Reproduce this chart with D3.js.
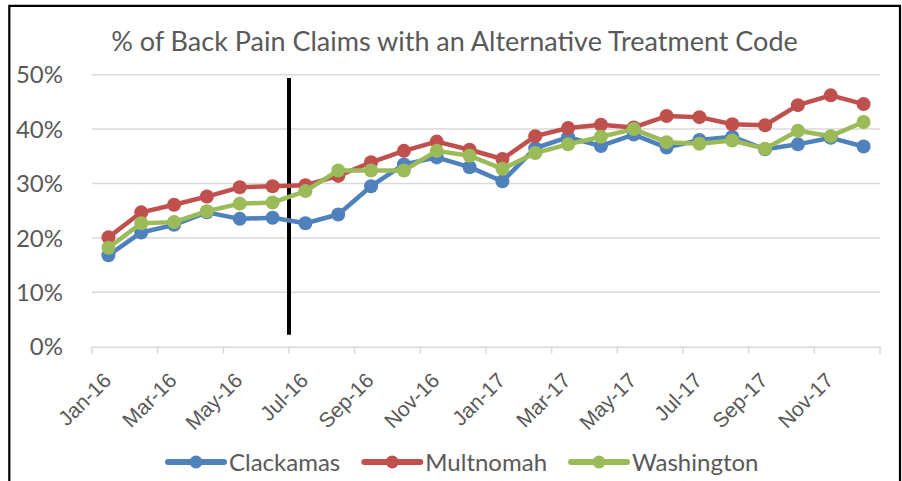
<!DOCTYPE html>
<html>
<head>
<meta charset="utf-8">
<script src="https://cdn.jsdelivr.net/npm/d3@7"></script>
<style>
  body { margin: 0; background: white; }
  svg { display: block; font-family: Lato, "Open Sans", sans-serif; }
</style>
</head>
<body>
<div id="chart"></div>
<script>
const MONTHS = ["Jan-16", "Feb-16", "Mar-16", "Apr-16", "May-16", "Jun-16", "Jul-16", "Aug-16", "Sep-16", "Oct-16", "Nov-16", "Dec-16",
                "Jan-17", "Feb-17", "Mar-17", "Apr-17", "May-17", "Jun-17", "Jul-17", "Aug-17", "Sep-17", "Oct-17", "Nov-17", "Dec-17"];

const SERIES = ["Clackamas", "Multnomah", "Washington"];
const COLORS = ["#4f81bd", "#c0504d", "#9bbb59"];

// percent values
const clackamas  = [16.8, 21.0, 22.4, 24.7, 23.5, 23.7, 22.7, 24.3, 29.5, 33.5, 34.8, 33.0, 30.4, 36.5, 38.5, 36.9, 39.0, 36.6, 38.0, 38.6, 36.3, 37.2, 38.4, 36.8];
const multnomah  = [20.1, 24.7, 26.1, 27.6, 29.3, 29.5, 29.7, 31.4, 33.9, 36.0, 37.7, 36.2, 34.5, 38.7, 40.2, 40.8, 40.3, 42.4, 42.2, 40.9, 40.7, 44.4, 46.2, 44.6];
const washington = [18.2, 22.7, 22.9, 24.9, 26.3, 26.5, 28.6, 32.4, 32.4, 32.4, 36.0, 35.1, 32.7, 35.6, 37.2, 38.6, 40.0, 37.6, 37.3, 37.9, 36.4, 39.7, 38.7, 41.3];

const Y_TICKS = [0, 10, 20, 30, 40, 50];
const X_LABELS = MONTHS.filter(function(d, i) { return i % 2 == 0; });

// black divider drawn at the start of Jul-16
const DIVIDER_MONTH = "Jul-16";
const DIVIDER_RANGE = [2.2, 49.4];

const TITLE = "% of Back Pain Claims with an Alternative Treatment Code";

var width = 902, height = 481;
var margin = {left: 92, right: 22, top: 75, bottom: 135};
var textColor = "#595959";
var gridColor = "#d9d9d9";

var svg = d3.select("#chart")
  .append("svg")
  .attr("width", width)
  .attr("height", height);

var x = d3.scaleBand()
  .domain(MONTHS)
  .range([margin.left, width - margin.right])
  .padding(0);

var y = d3.scaleLinear()
  .domain([0, 50])
  .range([height - margin.bottom + 0.7, margin.top - 0.3]);

var cx = function(m) { return x(m) + x.bandwidth() / 2; };

// chart border (bottom edge is cut off in the original)
svg.append("path")
  .attr("d", "M9.3," + (height + 2) + "V5.8H900V" + (height + 2))
  .attr("fill", "none")
  .attr("stroke", "#000")
  .attr("stroke-width", 2.2);

// title
svg.append("text")
  .attr("x", 454.5)
  .attr("y", 51)
  .attr("text-anchor", "middle")
  .style("font-size", "27px")
  .style("fill", textColor)
  .text(TITLE);

// gridlines
svg.append("g").selectAll("line")
  .data(Y_TICKS.filter(function(d) { return d > 0; }))
  .enter()
  .append("line")
  .attr("x1", margin.left)
  .attr("x2", width - margin.right)
  .attr("y1", function(d) { return y(d); })
  .attr("y2", function(d) { return y(d); })
  .attr("stroke", gridColor)
  .attr("stroke-width", 1.5);

// y axis labels
svg.append("g").selectAll("text")
  .data(Y_TICKS)
  .enter()
  .append("text")
  .attr("x", 63)
  .attr("y", function(d) { return y(d); })
  .attr("dy", "0.36em")
  .attr("text-anchor", "end")
  .style("font-size", "24px")
  .style("fill", textColor)
  .text(function(d) { return d + "%"; });

// x axis: ticks between categories, every 2nd boundary
var xAxis = d3.axisBottom(x)
  .tickValues(X_LABELS)
  .tickSize(7)
  .tickSizeOuter(0)
  .tickFormat("");

var xg = svg.append("g")
  .attr("transform", "translate(0," + y(0) + ")")
  .call(xAxis);

xg.select(".domain").attr("stroke", gridColor).attr("stroke-width", 1.5);
xg.selectAll(".tick").attr("transform", function(d) { return "translate(" + x(d) + ",0)"; });
xg.selectAll(".tick line").attr("stroke", gridColor).attr("stroke-width", 1.5);

// closing tick at the right end of the axis
xg.append("line")
  .attr("x1", x.range()[1])
  .attr("x2", x.range()[1])
  .attr("y1", 0)
  .attr("y2", 7)
  .attr("stroke", gridColor)
  .attr("stroke-width", 1.5);

xg.selectAll(".tick").append("text")
  .attr("transform", "translate(" + (x.bandwidth() / 2 + 4) + ",35) rotate(-45)")
  .attr("text-anchor", "end")
  .attr("fill", textColor)
  .style("font-size", "21px")
  .text(function(d) { return d; });

// divider line
svg.append("line")
  .attr("x1", x(DIVIDER_MONTH))
  .attr("x2", x(DIVIDER_MONTH))
  .attr("y1", y(DIVIDER_RANGE[0]))
  .attr("y2", y(DIVIDER_RANGE[1]))
  .attr("stroke", "#000")
  .attr("stroke-width", 4);

// series
var seriesData = [clackamas, multnomah, washington];

var line = d3.line()
  .x(function(d, i) { return cx(MONTHS[i]); })
  .y(function(d) { return y(d); });

seriesData.forEach(function(values, s) {
  var g = svg.append("g");

  g.append("path")
    .datum(values)
    .attr("d", line)
    .attr("fill", "none")
    .attr("stroke", COLORS[s])
    .attr("stroke-width", 4.5)
    .attr("stroke-linejoin", "round");

  g.selectAll("circle")
    .data(values)
    .enter()
    .append("circle")
    .attr("cx", function(d, i) { return cx(MONTHS[i]); })
    .attr("cy", function(d) { return y(d); })
    .attr("r", 7)
    .attr("fill", COLORS[s]);
});

// legend
var legend = svg.append("g");
var lx = 168, ly = 462;

SERIES.forEach(function(name, s) {
  var item = legend.append("g").attr("transform", "translate(" + lx + "," + ly + ")");

  item.append("line")
    .attr("x1", 0)
    .attr("x2", 56)
    .attr("stroke", COLORS[s])
    .attr("stroke-width", 6)
    .attr("stroke-linecap", "round");

  item.append("circle")
    .attr("cx", 28)
    .attr("r", 6.5)
    .attr("fill", COLORS[s]);

  var label = item.append("text")
    .attr("x", 61)
    .attr("dy", "0.36em")
    .style("font-size", "24px")
    .style("fill", textColor)
    .text(name);

  lx += 61 + label.node().getComputedTextLength() + 24;
});
</script>
</body>
</html>
